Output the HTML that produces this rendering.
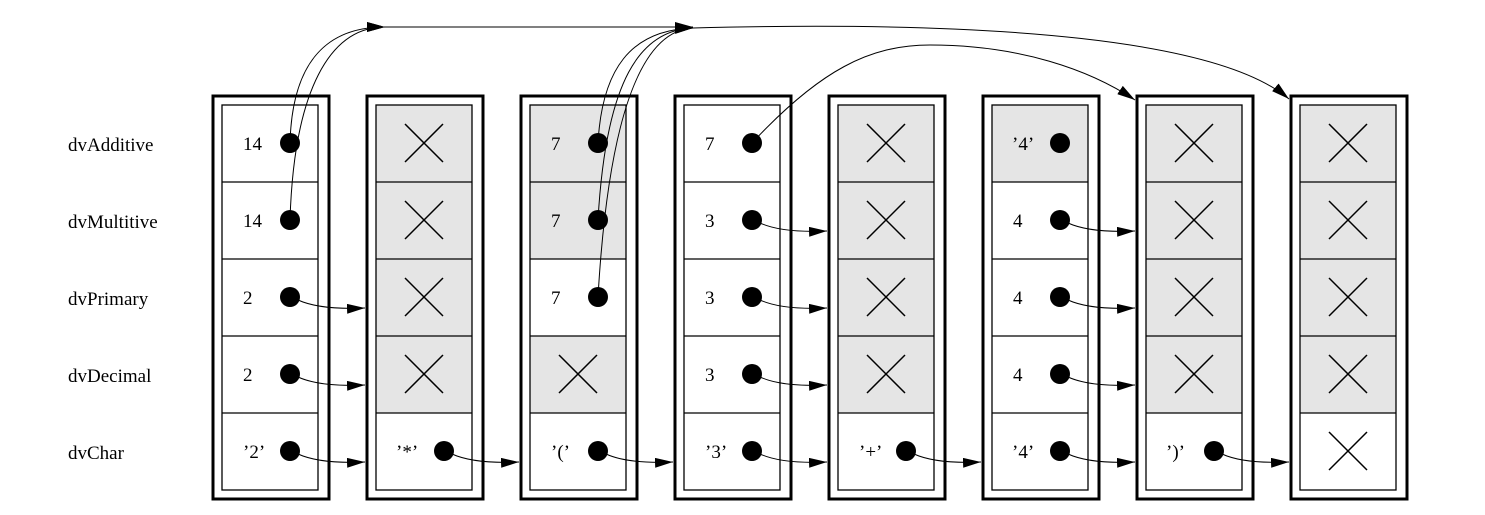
<!DOCTYPE html>
<html><head><meta charset="utf-8"><style>
html,body{margin:0;padding:0;background:#fff}
svg{display:block}
text{font-family:"Liberation Serif",serif;font-size:19px;fill:#000}
</style></head><body>
<svg width="1485" height="515" viewBox="0 0 1485 515" xmlns="http://www.w3.org/2000/svg">
<defs><marker id="a" markerWidth="18" markerHeight="10" refX="18" refY="5" orient="auto" markerUnits="userSpaceOnUse"><path d="M0,0 L18,5 L0,10 z" fill="#000"/></marker></defs>
<g>
<text x="68" y="151">dvAdditive</text>
<text x="68" y="228">dvMultitive</text>
<text x="68" y="305">dvPrimary</text>
<text x="68" y="382">dvDecimal</text>
<text x="68" y="459">dvChar</text>
</g>
<g fill="#e5e5e5">
<rect x="376" y="105" width="96" height="308"/>
<rect x="530" y="105" width="96" height="154"/>
<rect x="530" y="336" width="96" height="77"/>
<rect x="838" y="105" width="96" height="308"/>
<rect x="992" y="105" width="96" height="77"/>
<rect x="1146" y="105" width="96" height="308"/>
<rect x="1300" y="105" width="96" height="308"/>
</g>
<g fill="none" stroke="#000">
<g stroke-width="3">
<rect x="213" y="96" width="116" height="403"/><rect x="367" y="96" width="116" height="403"/><rect x="521" y="96" width="116" height="403"/><rect x="675" y="96" width="116" height="403"/><rect x="829" y="96" width="116" height="403"/><rect x="983" y="96" width="116" height="403"/><rect x="1137" y="96" width="116" height="403"/><rect x="1291" y="96" width="116" height="403"/>
</g>
<g stroke-width="1.3">
<rect x="222" y="105" width="96" height="385"/><rect x="376" y="105" width="96" height="385"/><rect x="530" y="105" width="96" height="385"/><rect x="684" y="105" width="96" height="385"/><rect x="838" y="105" width="96" height="385"/><rect x="992" y="105" width="96" height="385"/><rect x="1146" y="105" width="96" height="385"/><rect x="1300" y="105" width="96" height="385"/>
<path d="M222,182h96M222,259h96M222,336h96M222,413h96
M376,182h96M376,259h96M376,336h96M376,413h96
M530,182h96M530,259h96M530,336h96M530,413h96
M684,182h96M684,259h96M684,336h96M684,413h96
M838,182h96M838,259h96M838,336h96M838,413h96
M992,182h96M992,259h96M992,336h96M992,413h96
M1146,182h96M1146,259h96M1146,336h96M1146,413h96
M1300,182h96M1300,259h96M1300,336h96M1300,413h96"/>
</g>
<g stroke-width="1.5">
<path d="M405,124l38,38m0,-38l-38,38M405,201l38,38m0,-38l-38,38M405,278l38,38m0,-38l-38,38M405,355l38,38m0,-38l-38,38"/>
<path d="M559,355l38,38m0,-38l-38,38"/>
<path d="M867,124l38,38m0,-38l-38,38M867,201l38,38m0,-38l-38,38M867,278l38,38m0,-38l-38,38M867,355l38,38m0,-38l-38,38"/>
<path d="M1175,124l38,38m0,-38l-38,38M1175,201l38,38m0,-38l-38,38M1175,278l38,38m0,-38l-38,38M1175,355l38,38m0,-38l-38,38"/>
<path d="M1329,124l38,38m0,-38l-38,38M1329,201l38,38m0,-38l-38,38M1329,278l38,38m0,-38l-38,38M1329,355l38,38m0,-38l-38,38M1329,432l38,38m0,-38l-38,38"/>
</g>
</g>
<text x="243" y="150">14</text><text x="243" y="227">14</text><text x="243" y="304">2</text><text x="243" y="381">2</text><text x="243" y="458">’2’</text>
<text x="396" y="458">’*’</text>
<text x="551" y="150">7</text><text x="551" y="227">7</text><text x="551" y="304">7</text><text x="551" y="458">’(’</text>
<text x="705" y="150">7</text><text x="705" y="227">3</text><text x="705" y="304">3</text><text x="705" y="381">3</text><text x="705" y="458">’3’</text>
<text x="859" y="458">’+’</text>
<text x="1012" y="150">’4’</text><text x="1013" y="227">4</text><text x="1013" y="304">4</text><text x="1013" y="381">4</text><text x="1012" y="458">’4’</text>
<text x="1166" y="458">’)’</text>
<g fill="none" stroke="#000" stroke-width="1" marker-end="url(#a)">
<path d="M290,143 C292,70 320,27 385,27"/>
<path d="M290,220 C294,90 330,27 385,27"/>
<path d="M385,27 H693"/>
<path d="M598,143 C602,70 630,30 693,28"/>
<path d="M598,220 C606,80 640,30 693,28"/>
<path d="M598,297 C610,90 650,30 693,28"/>
<path d="M693,28 C1000,20 1220,40 1289,99"/>
<path d="M752,143 C820,70 870,45 930,45 C1020,45 1090,70 1135,100"/>
<path d="M298,300 Q320,310 365,308"/>
<path d="M298,377 Q320,387 365,385"/>
<path d="M298,454 Q320,464 365,462"/>
<path d="M452,454 Q474,464 519,462"/>
<path d="M606,454 Q628,464 673,462"/>
<path d="M760,223 Q782,233 827,231"/>
<path d="M760,300 Q782,310 827,308"/>
<path d="M760,377 Q782,387 827,385"/>
<path d="M760,454 Q782,464 827,462"/>
<path d="M914,454 Q936,464 981,462"/>
<path d="M1068,223 Q1090,233 1135,231"/>
<path d="M1068,300 Q1090,310 1135,308"/>
<path d="M1068,377 Q1090,387 1135,385"/>
<path d="M1068,454 Q1090,464 1135,462"/>
<path d="M1222,454 Q1244,464 1289,462"/>
</g>
<g fill="#000">
<circle cx="290" cy="143" r="10"/><circle cx="290" cy="220" r="10"/><circle cx="290" cy="297" r="10"/><circle cx="290" cy="374" r="10"/><circle cx="290" cy="451" r="10"/>
<circle cx="444" cy="451" r="10"/>
<circle cx="598" cy="143" r="10"/><circle cx="598" cy="220" r="10"/><circle cx="598" cy="297" r="10"/><circle cx="598" cy="451" r="10"/>
<circle cx="752" cy="143" r="10"/><circle cx="752" cy="220" r="10"/><circle cx="752" cy="297" r="10"/><circle cx="752" cy="374" r="10"/><circle cx="752" cy="451" r="10"/>
<circle cx="906" cy="451" r="10"/>
<circle cx="1060" cy="143" r="10"/><circle cx="1060" cy="220" r="10"/><circle cx="1060" cy="297" r="10"/><circle cx="1060" cy="374" r="10"/><circle cx="1060" cy="451" r="10"/>
<circle cx="1214" cy="451" r="10"/>
</g>
</svg>
</body></html>
